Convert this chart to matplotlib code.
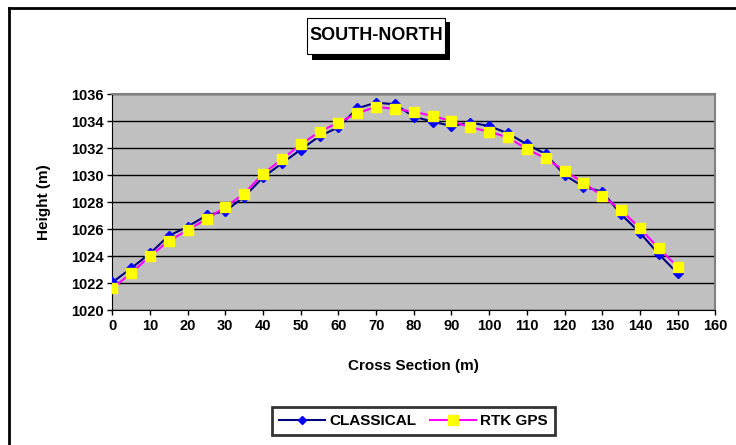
import matplotlib
matplotlib.use('Agg')
import matplotlib.pyplot as plt
from matplotlib.patches import Rectangle
from matplotlib.lines import Line2D

plt.rcParams['font.family'] = ['Liberation Sans', 'DejaVu Sans']
plt.rcParams['font.weight'] = 'bold'

# 数据: 横断面位置 (m) 与高程 (m)
section = [0, 5, 10, 15, 20, 25, 30, 35, 40, 45, 50, 55, 60, 65, 70, 75,
           80, 85, 90, 95, 100, 105, 110, 115, 120, 125, 130, 135, 140, 145, 150]
classical = [1022.05, 1023.09, 1024.2, 1025.51, 1026.18, 1027.02, 1027.34, 1028.4,
             1029.84, 1030.88, 1031.9, 1032.9, 1033.55, 1034.96, 1035.38, 1035.26,
             1034.34, 1033.97, 1033.65, 1033.9, 1033.65, 1033.1, 1032.29, 1031.57,
             1030.01, 1029.15, 1028.77, 1027.1, 1025.73, 1024.15, 1022.72]
rtk_gps = [1021.6, 1022.74, 1024.0, 1025.12, 1025.93, 1026.75, 1027.64, 1028.63,
           1030.11, 1031.18, 1032.28, 1033.23, 1033.9, 1034.59, 1035.08, 1034.91,
           1034.71, 1034.39, 1034.02, 1033.55, 1033.23, 1032.8, 1031.94, 1031.25,
           1030.33, 1029.44, 1028.46, 1027.42, 1026.06, 1024.58, 1023.21]
x_ticks = list(range(0, 161, 10))
y_ticks = list(range(1020, 1037, 2))

W, H = 736, 445
fig = plt.figure(figsize=(W / 100, H / 100), dpi=100)
fig.patch.set_facecolor('white')


def fx(px):
    return px / W


def fy(py):
    return 1 - py / H


ax = fig.add_axes([fx(112.3), fy(310), fx(715.3) - fx(112.3), fy(94.3) - fy(310)])
ax.set_facecolor('#C0C0C0')

ax.plot(section, classical, color='#000080', lw=1.5, marker='D', ms=5,
        mfc='#0000FF', mec='#0000FF', label='CLASSICAL', zorder=3)
ax.plot(section, rtk_gps, color='#FF00FF', lw=1.5, marker='s', ms=7.5,
        mfc='#FFFF00', mec='#FFFF00', label='RTK GPS', zorder=4)

ax.set_xlim(0, 160)
ax.set_ylim(1020, 1036)
ax.set_xticks(x_ticks)
ax.set_yticks(y_ticks)
ax.yaxis.grid(True, color='black', lw=1)
ax.set_axisbelow(True)
ax.tick_params(direction='out', length=3.5, width=1, labelsize=10.5, pad=3)
for lab in ax.get_xticklabels() + ax.get_yticklabels():
    lab.set_fontweight('bold')
ax.spines['left'].set_color('black')
ax.spines['bottom'].set_color('black')
ax.spines['top'].set_color('#808080')
ax.spines['right'].set_color('#808080')
ax.spines['top'].set_linewidth(1.5)
ax.spines['right'].set_linewidth(1.5)

ax.set_xlabel('Cross Section (m)', fontsize=11, fontweight='bold', labelpad=19)
ax.set_ylabel('Height (m)', fontsize=11, fontweight='bold', labelpad=14)

# 标题框 (带阴影)
fig.add_artist(Rectangle((fx(311.5), fy(59.5)), fx(449.5) - fx(311.5), fy(21.5) - fy(59.5),
                         transform=fig.transFigure, facecolor='black', edgecolor='none'))
fig.add_artist(Rectangle((fx(307.3), fy(54.3)), fx(445) - fx(307.3), fy(17.7) - fy(54.3),
                         transform=fig.transFigure, facecolor='white', edgecolor='black', lw=0.8))
fig.text(fx(376.2), fy(36), 'SOUTH-NORTH', ha='center', va='center',
         fontsize=13, fontweight='bold')

# 外框 (上边和左边)
fig.add_artist(Line2D([fx(9), 1], [fy(8), fy(8)], color='black', lw=2, transform=fig.transFigure))
fig.add_artist(Line2D([fx(9), fx(9)], [fy(8), 0], color='black', lw=2, transform=fig.transFigure))

leg = fig.legend(loc='center', bbox_to_anchor=(fx(413.3), fy(421)), ncol=2,
                 prop={'weight': 'bold', 'size': 11}, frameon=True, fancybox=False,
                 edgecolor='black', handlelength=3, handletextpad=0.3, columnspacing=0.9,
                 borderpad=0.45, markerscale=0.9)
leg.get_frame().set_linewidth(2)

fig.savefig('out.png', dpi=100)
